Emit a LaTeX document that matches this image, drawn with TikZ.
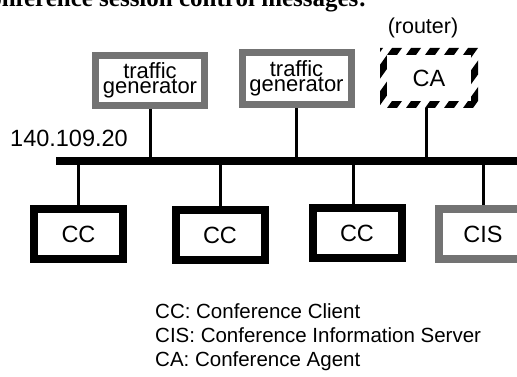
\documentclass[tikz,border=0pt]{standalone}
\usepackage{fontspec}
\setmainfont{Liberation Sans}
\newfontfamily\headfont{Liberation Serif}
\definecolor{screen}{gray}{0.45}
\pgfdeclarelayer{background}
\pgfsetlayers{background,main}

\begin{document}
\begin{tikzpicture}[x=1pt,y=-1pt,
  client/.style={draw=black,fill=white,line width=8pt,minimum width=89pt,minimum height=50pt,
    inner sep=0pt,font=\fontsize{23.5}{23.5}\selectfont},
  server/.style={client,draw=screen},
  generator/.style={draw=screen,fill=white,line width=7pt,minimum width=109pt,minimum height=50pt,
    inner sep=0pt,align=center,font=\fontsize{22}{15}\selectfont},
  agent/.style={minimum width=98pt,minimum height=60pt,inner sep=0pt,font=\fontsize{23.5}{23.5}\selectfont,
    path picture={
      \foreach \s in {-50,-31,...,110}
        \fill[black] ([xshift=\s pt]path picture bounding box.south west) -- ++(10,0) -- ++(43,-60) -- ++(-10,0) -- cycle;
      \fill[white] ([shift={(7pt,7pt)}]path picture bounding box.south west) rectangle
        ([shift={(-7pt,-7pt)}]path picture bounding box.north east);
    }},
  label/.style={inner sep=0pt,font=\fontsize{20.5}{20.5}\selectfont},
  tap/.style={line width=3pt}]
\useasboundingbox (0,0) rectangle (517,377);

\node[anchor=base east,inner sep=0pt,font=\headfont\bfseries\fontsize{25}{25}\selectfont] (head) at (367,7) {conference session control messages:};

% upper row
\node[generator] (tg1) at (150,80.5) {traffic\\generator};
\node[generator,minimum height=52pt] (tg2) at (296.5,78.5) {traffic\\generator};
\node[agent] (ca) at (429,78) {CA};
\node[label,font=\fontsize{21.5}{21.5}\selectfont] (router) at (423,28) {(router)};

% network
\coordinate (busW) at (56,161);
\coordinate (busE) at (530,161);
\node[label,anchor=base west,font=\fontsize{23.5}{23.5}\selectfont] (net) at (10,147) {140.109.20};

% lower row
\node[client] (cc1) at (78.5,234) {CC};
\node[client] (cc2) at (220,235) {CC};
\node[client] (cc3) at (357,233) {CC};
\node[server] (cis) at (483,234) {CIS};

\begin{pgfonlayer}{background}
\draw[line width=8pt] (busW) -- (busE);
\draw[tap] (tg1.south) -- (tg1.south |- busW);
\draw[tap] (tg2.south) -- (tg2.south |- busW);
\draw[tap] ([xshift=-3pt]ca.south) -- ([xshift=-3pt]ca.south |- busW);
\draw[tap] (cc1.north) -- (cc1.north |- busW);
\draw[tap] (cc2.north) -- (cc2.north |- busW);
\draw[tap] ([xshift=-4pt]cc3.north) -- ([xshift=-4pt]cc3.north |- busW);
\draw[tap] (cis.north) -- (cis.north |- busW);
\end{pgfonlayer}

% key
\node[label,anchor=base west] (key1) at (155,318) {CC: Conference Client};
\node[label,anchor=base west] (key2) at (155,342) {CIS: Conference Information Server};
\node[label,anchor=base west] (key3) at (155,366) {CA: Conference Agent};
\end{tikzpicture}
\end{document}
